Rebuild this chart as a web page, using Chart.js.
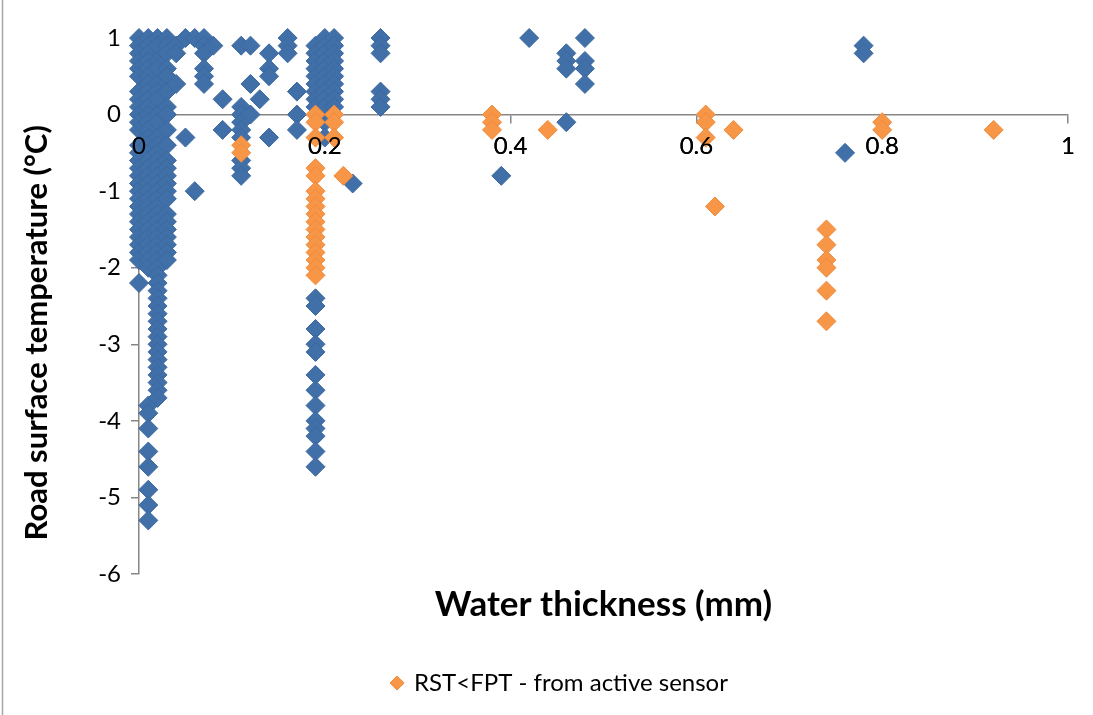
<!DOCTYPE html>
<html>
<head>
<meta charset="utf-8">
<title>Road surface temperature vs water thickness</title>
<script src="https://cdn.jsdelivr.net/npm/chart.js@4.4.1/dist/chart.umd.min.js"></script>
<style>
  html, body { margin: 0; padding: 0; background: #fff; }
</style>
</head>
<body>
<canvas id="chart" width="1093" height="715"></canvas>
<script>
// Water thickness (mm) of each column of readings, and the road surface temperatures (°C) seen there
const sensorThickness = [0, 0.01, 0.02, 0.03, 0.04, 0.05, 0.06, 0.07, 0.08, 0.09, 0.11, 0.12, 0.13, 0.14, 0.16, 0.17,
                         0.19, 0.20, 0.21, 0.23, 0.26, 0.39, 0.42, 0.46, 0.48, 0.76, 0.78];
const sensorTemps = [
  [1.0, 0.9, 0.8, 0.7, 0.6, 0.5, 0.3, 0.2, 0.1, 0.0, -0.1, -0.2, -0.4, -0.5, -0.6, -0.7, -0.8, -0.9, -1.0,
   -1.1, -1.2, -1.3, -1.4, -1.5, -1.6, -1.7, -1.8, -1.9, -2.2],
  [1.0, 0.9, 0.8, 0.7, 0.6, 0.5, 0.4, 0.3, 0.2, 0.1, 0.0, -0.1, -0.2, -0.3, -0.4, -0.5, -0.6, -0.7, -0.8, -0.9,
   -1.0, -1.1, -1.2, -1.3, -1.4, -1.5, -1.6, -1.7, -1.8, -1.9, -2.0, -3.8, -3.9, -4.1, -4.4, -4.6, -4.9, -5.1, -5.3],
  [1.0, 0.9, 0.7, 0.6, 0.4, 0.3, 0.2, 0.0, -0.1, -0.3, -0.4, -0.5, -0.6, -0.7, -0.8, -0.9, -1.0, -1.1, -1.2,
   -1.3, -1.4, -1.5, -1.6, -1.7, -1.8, -1.9, -2.0, -2.1, -2.2, -2.3, -2.4, -2.5, -2.6, -2.7, -2.8, -2.9, -3.0,
   -3.1, -3.2, -3.3, -3.4, -3.5, -3.6, -3.7],
  [1.0, 0.9, 0.8, 0.6, 0.5, 0.3, 0.1, 0.0, -0.2, -0.4, -0.6, -0.7, -0.8, -0.9, -1.0, -1.1, -1.3, -1.4, -1.5,
   -1.6, -1.7, -1.8, -1.9],
  [0.9, 0.8, 0.4],
  [1.0, -0.3],
  [1.0, -1.0],
  [1.0, 0.9, 0.8, 0.6, 0.5, 0.4],
  [0.9],
  [0.2, -0.2],
  [0.9, 0.1, 0.0, -0.1, -0.2, -0.3, -0.6, -0.7, -0.8],
  [0.9, 0.4, 0.0],
  [0.2],
  [0.8, 0.6, 0.5, -0.3],
  [1.0, 0.9, 0.8],
  [0.3, 0.0, -0.2],
  [0.9, 0.8, 0.7, 0.6, 0.5, 0.4, 0.3, 0.2, 0.1, -2.4, -2.5, -2.8, -3.0, -3.1, -3.4, -3.6, -3.8, -4.0, -4.1,
   -4.2, -4.4, -4.6],
  [1.0, 0.9, 0.8, 0.7, 0.6, 0.5, 0.4, 0.3, 0.2, 0.1, -0.1, -0.3],
  [1.0, 0.9, 0.8, 0.7, 0.6, 0.5, 0.4, 0.3, 0.2, 0.1],
  [-0.9],
  [1.0, 0.9, 0.8, 0.3, 0.2, 0.1],
  [-0.8],
  [1.0],
  [0.8, 0.7, 0.6, -0.1],
  [1.0, 0.7, 0.6, 0.4],
  [-0.5],
  [0.9, 0.8]
];

// RST < FPT readings from the active sensor
const activeThickness = [0.11, 0.19, 0.21, 0.22, 0.38, 0.44, 0.61, 0.62, 0.64, 0.74, 0.80, 0.92];
const activeTemps = [
  [-0.4, -0.5],
  [0.0, -0.1, -0.3, -0.7, -0.8, -1.0, -1.1, -1.2, -1.3, -1.4, -1.5, -1.6, -1.7, -1.8, -1.9, -2.0, -2.1],
  [0.0, -0.1, -0.3],
  [-0.8],
  [0.0, -0.1, -0.2],
  [-0.2],
  [0.0, -0.1, -0.3],
  [-1.2],
  [-0.2],
  [-1.5, -1.7, -1.9, -2.0, -2.3, -2.7],
  [-0.1, -0.2],
  [-0.2]
];

const xTicks = [0, 0.2, 0.4, 0.6, 0.8, 1];
const yTicks = [1, 0, -1, -2, -3, -4, -5, -6];
const yTitle = 'Road surface temperature (°C)';

function toPoints(xs, cols) {
  const pts = [];
  xs.forEach((x, i) => cols[i].forEach(y => pts.push({ x: x, y: y })));
  return pts;
}

Chart.defaults.font.family = 'Lato';
Chart.defaults.color = '#000';

const axisGrey = '#868686';

// frame line on the left, x tick labels painted again over the markers, and the vertical axis title
const chartDecor = {
  id: 'chartDecor',
  afterDatasetsDraw(chart) {
    chart.scales.x.drawLabels(chart.chartArea);
  },
  afterDraw(chart) {
    const c = chart.ctx;
    const area = chart.chartArea;
    c.save();
    c.strokeStyle = '#a6a6a6';
    c.lineWidth = 1.5;
    c.beginPath();
    c.moveTo(2.5, 0);
    c.lineTo(2.5, chart.height);
    c.stroke();

    c.translate(37, area.top + (area.bottom - area.top) * 0.55);
    c.rotate(-Math.PI / 2);
    c.fillStyle = '#000';
    c.font = 'bold 31px Lato';
    c.textAlign = 'center';
    c.textBaseline = 'middle';
    c.fillText(yTitle, 0, 0);
    c.restore();
  }
};

const ctx = document.getElementById('chart').getContext('2d');
new Chart(ctx, {
  type: 'scatter',
  data: {
    datasets: [{
      label: 'RST<FPT - from active sensor',
      data: toPoints(activeThickness, activeTemps),
      backgroundColor: '#f79646',
      borderColor: '#f08a3c',
      borderWidth: 1,
      pointStyle: 'rectRot',
      pointRadius: 9.5,
      pointHoverRadius: 9.5,
      clip: false
    }, {
      label: 'Sensor readings',
      data: toPoints(sensorThickness, sensorTemps),
      backgroundColor: '#4170a8',
      borderColor: '#3c68a0',
      borderWidth: 1,
      pointStyle: 'rectRot',
      pointRadius: 9.5,
      pointHoverRadius: 9.5,
      clip: false
    }]
  },
  options: {
    responsive: false,
    animation: false,
    devicePixelRatio: 1,
    layout: { padding: { left: 52, right: 25, top: 38, bottom: 10 } },
    plugins: {
      title: {
        display: true,
        position: 'bottom',
        fullSize: false,
        weight: 500,
        text: 'Water thickness (mm)',
        color: '#000',
        font: { family: 'Lato', size: 35, weight: 'bold' },
        padding: { top: 10, bottom: 35 }
      },
      legend: {
        position: 'bottom',
        labels: {
          usePointStyle: true,
          pointStyle: 'rectRot',
          boxWidth: 10,
          boxHeight: 10,
          color: '#000',
          font: { family: 'Lato', size: 24 },
          filter: item => item.datasetIndex === 0
        }
      },
      tooltip: { enabled: false }
    },
    scales: {
      x: {
        type: 'linear',
        min: 0,
        max: 1,
        position: { y: 0 },
        afterBuildTicks: scale => { scale.ticks = xTicks.map(v => ({ value: v })); },
        ticks: {
          font: { family: 'Lato', size: 24 },
          color: '#000',
          padding: 9,
          maxRotation: 0,
          callback: value => String(value)
        },
        grid: { drawOnChartArea: false, drawTicks: true, tickLength: 8, color: axisGrey, lineWidth: 1.5 },
        border: { display: true, color: axisGrey, width: 1.5 }
      },
      y: {
        type: 'linear',
        min: -6,
        max: 1,
        afterBuildTicks: scale => { scale.ticks = yTicks.map(v => ({ value: v })); },
        afterFit: scale => { scale.width = 87; },
        ticks: {
          font: { family: 'Lato', size: 24 },
          color: '#000',
          padding: 10,
          callback: value => String(value)
        },
        grid: { drawOnChartArea: false, drawTicks: true, tickLength: 8, color: axisGrey, lineWidth: 1.5 },
        border: { display: true, color: axisGrey, width: 1.5 }
      }
    }
  },
  plugins: [chartDecor]
});
</script>
</body>
</html>
